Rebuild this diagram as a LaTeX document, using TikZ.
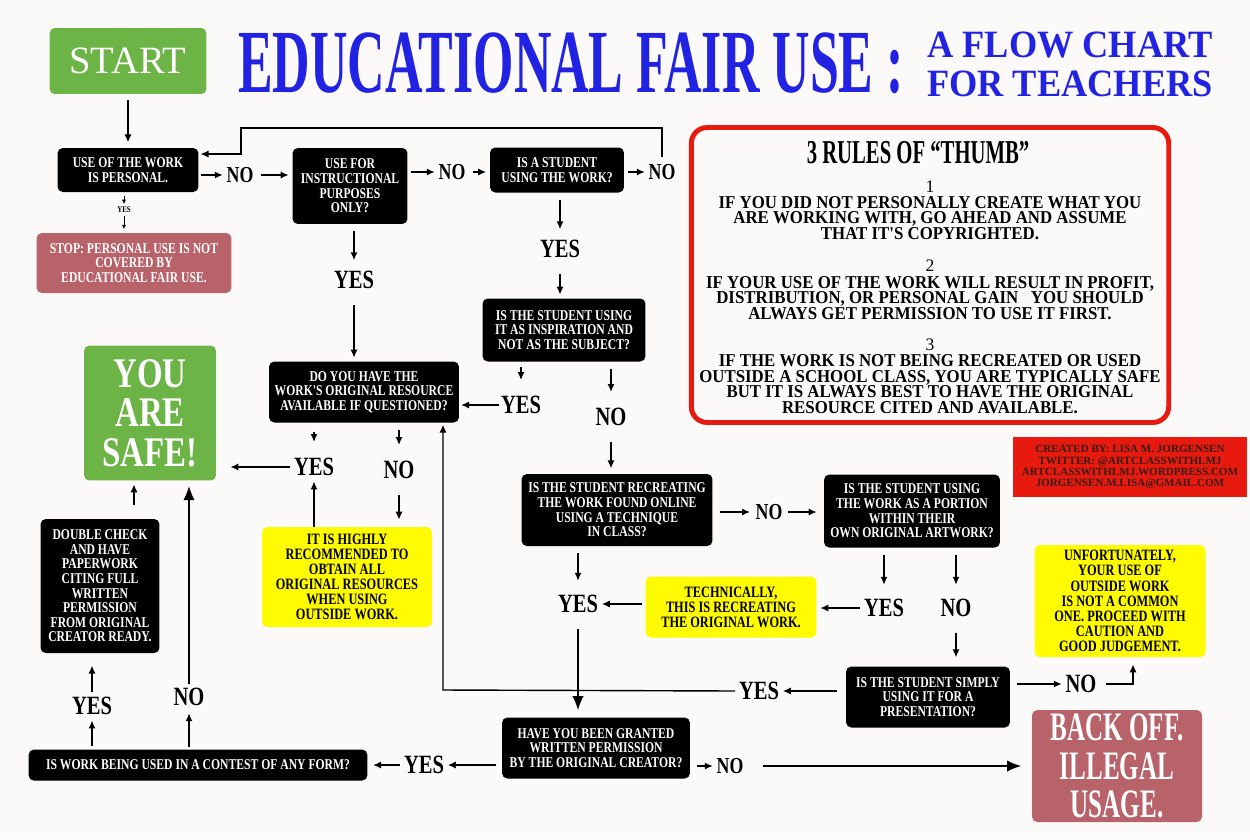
\documentclass[tikz,border=0pt]{standalone}
\usepackage{fontspec}
\usepackage{graphicx}
\setmainfont{Liberation Serif}
\newfontfamily\cnd[FakeStretch=0.78]{Liberation Serif}
\newfontfamily\xcnd[FakeStretch=0.62]{Liberation Serif}
\newfontfamily\rfont[FakeStretch=0.93]{Liberation Serif}
\newfontfamily\subfont[FakeStretch=0.94]{Liberation Serif}
\usetikzlibrary{arrows.meta}
\definecolor{bgcol}{HTML}{FCF9F9}
\definecolor{okgreen}{HTML}{6DB446}
\definecolor{stoprose}{HTML}{B8626A}
\definecolor{flowyellow}{HTML}{FFFB00}
\definecolor{rulered}{HTML}{E61A0E}
\definecolor{titleblue}{HTML}{2222E2}
\definecolor{credtext}{HTML}{3A1A12}
\tikzset{%
  myedge/.style={-{Latex[length=4.5pt,width=4pt]}, line width=0.8pt, shorten >=3pt, shorten <=3pt},
  bigedge/.style={myedge, -{Latex[length=8pt,width=6.5pt]}},
  myline/.style={line width=0.7pt},
  qnode/.style={fill=black, text=white, rounded corners=3pt, align=center, inner sep=2pt,
    font=\cnd\bfseries\fontsize{8.5}{8.3}\selectfont},
  ynode/.style={qnode, fill=flowyellow, text=black, font=\cnd\bfseries\fontsize{9}{8.6}\selectfont},
  rnode/.style={qnode, fill=stoprose},
  gnode/.style={qnode, fill=okgreen},
  lbl/.style={inner sep=1pt, font=\cnd\bfseries\fontsize{15}{15}\selectfont},
  slbl/.style={inner sep=1pt, font=\cnd\bfseries\fontsize{13}{13}\selectfont},
  tlbl/.style={inner sep=0.5pt, font=\cnd\bfseries\fontsize{5}{5}\selectfont},
  titletext/.style={inner sep=0pt, text=titleblue, font=\bfseries},
  rulestext/.style={align=center, inner sep=0pt, font=\rfont\bfseries\fontsize{10.3}{8.8}\selectfont},
  rulesnum/.style={inner sep=0pt, font=\fontsize{10}{10}\selectfont}
}

\begin{document}
\begin{tikzpicture}[x=0.02cm, y=-0.02cm]
  \fill[bgcol] (0,0) rectangle (1250,839);
  \useasboundingbox (0,0) rectangle (1250,839);

  \node[gnode, minimum width=3.14cm, minimum height=1.32cm, font=\fontsize{22}{22}\selectfont] (start) at (128,61) {START};
  \node[titletext] (title) at (571,63) {\resizebox{379pt}{34pt}{EDUCATIONAL FAIR USE :}};
  \node[titletext, align=center, font=\subfont\bfseries\fontsize{22}{22.2}\selectfont] (sub) at (1070,64) {A FLOW CHART\\FOR TEACHERS};

  \node[qnode, minimum width=2.82cm, minimum height=0.88cm] (personal) at (128,170) {USE OF THE WORK\\IS PERSONAL.};
  \node[rnode, minimum width=3.9cm, minimum height=1.2cm] (stop) at (134,263) {STOP: PERSONAL USE IS NOT\\COVERED BY\\EDUCATIONAL FAIR USE.};
  \node[qnode, minimum width=2.3cm, minimum height=1.52cm] (instr) at (350,186) {USE FOR\\INSTRUCTIONAL\\PURPOSES\\ONLY?};
  \node[qnode, minimum width=2.68cm, minimum height=0.9cm] (student) at (557,170) {IS A STUDENT\\USING THE WORK?};
  \node[qnode, minimum width=3.26cm, minimum height=1.26cm] (insp) at (564,330) {IS THE STUDENT USING\\IT AS INSPIRATION AND\\NOT AS THE SUBJECT?};
  \node[qnode, minimum width=3.8cm, minimum height=1.22cm] (resource) at (364,392) {DO YOU HAVE THE\\WORK'S ORIGINAL RESOURCE\\AVAILABLE IF QUESTIONED?};
  \node[gnode, minimum width=2.64cm, minimum height=2.7cm, font=\cnd\bfseries\fontsize{24}{22.5}\selectfont] (safe) at (150,413) {YOU\\ARE\\SAFE!};
  \node[ynode, minimum width=3.4cm, minimum height=2cm] (recom) at (347,577) {IT IS HIGHLY\\RECOMMENDED TO\\OBTAIN ALL\\ORIGINAL RESOURCES\\WHEN USING\\OUTSIDE WORK.};
  \node[qnode, minimum width=2.38cm, minimum height=2.68cm] (double) at (100,586) {DOUBLE CHECK\\AND HAVE\\PAPERWORK\\CITING FULL\\WRITTEN\\PERMISSION\\FROM ORIGINAL\\CREATOR READY.};
  \node[qnode, minimum width=6.78cm, minimum height=0.62cm] (contest) at (198,765) {IS WORK BEING USED IN A CONTEST OF ANY FORM?};
  \node[qnode, minimum width=3.76cm, minimum height=1.22cm] (granted) at (596,748) {HAVE YOU BEEN GRANTED\\WRITTEN PERMISSION\\BY THE ORIGINAL CREATOR?};
  \node[rnode, minimum width=3.4cm, minimum height=2.24cm, font=\xcnd\bfseries\fontsize{23}{22}\selectfont] (backoff) at (1117,766) {BACK OFF.\\ILLEGAL\\USAGE.};
  \node[qnode, minimum width=3.82cm, minimum height=1.44cm] (recreate) at (617,510) {IS THE STUDENT RECREATING\\THE WORK FOUND ONLINE\\USING A TECHNIQUE\\IN CLASS?};
  \node[qnode, minimum width=3.52cm, minimum height=1.46cm] (portion) at (912,511) {IS THE STUDENT USING\\THE WORK AS A PORTION\\WITHIN THEIR\\OWN ORIGINAL ARTWORK?};
  \node[ynode, minimum width=3.42cm, minimum height=1.22cm] (tech) at (731,607) {TECHNICALLY,\\THIS IS RECREATING\\THE ORIGINAL WORK.};
  \node[qnode, minimum width=3.28cm, minimum height=1.22cm] (present) at (928,697) {IS THE STUDENT SIMPLY\\USING IT FOR A\\PRESENTATION?};
  \node[ynode, minimum width=3.42cm, minimum height=2.24cm] (unfort) at (1120,601) {UNFORTUNATELY,\\YOUR USE OF\\OUTSIDE WORK\\IS NOT A COMMON\\ONE. PROCEED WITH\\CAUTION AND\\GOOD JUDGEMENT.};

  \node[draw=rulered, line width=2.8pt, rounded corners=9pt, fill=bgcol, minimum width=9.55cm, minimum height=5.9cm] (rules) at (930,275) {};
  \node[inner sep=0pt, font=\xcnd\bfseries\fontsize{19}{19}\selectfont] (rtitle) at (918,153) {3 RULES OF “THUMB”};
  \node[rulesnum] (rnum1) at (930,187) {1};
  \node[rulestext] (rule1) at (930,218) {IF YOU DID NOT PERSONALLY CREATE WHAT YOU\\ARE WORKING WITH, GO AHEAD AND ASSUME\\THAT IT'S COPYRIGHTED.};
  \node[rulesnum] (rnum2) at (930,266) {2};
  \node[rulestext] (rule2) at (930,298) {IF YOUR USE OF THE WORK WILL RESULT IN PROFIT,\\DISTRIBUTION, OR PERSONAL GAIN\ \ \ YOU SHOULD\\ALWAYS GET PERMISSION TO USE IT FIRST.};
  \node[rulesnum] (rnum3) at (930,345) {3};
  \node[rulestext] (rule3) at (930,384) {IF THE WORK IS NOT BEING RECREATED OR USED\\OUTSIDE A SCHOOL CLASS, YOU ARE TYPICALLY SAFE\\BUT IT IS ALWAYS BEST TO HAVE THE ORIGINAL\\RESOURCE CITED AND AVAILABLE.};
  \node[fill=rulered, text=credtext, align=center, inner sep=2pt, minimum width=4.68cm, minimum height=1.2cm,
    font=\bfseries\fontsize{6.3}{6.4}\selectfont] (credits) at (1130,467) {CREATED BY: LISA M. JORGENSEN\\TWITTER: @ARTCLASSWITHLMJ\\ARTCLASSWITHLMJ.WORDPRESS.COM\\JORGENSEN.M.LISA@GMAIL.COM};

  \node[tlbl] (yes0) at (124,210) {YES};
  \node[slbl] (no1) at (240,175) {NO};
  \node[slbl] (no2) at (452,172) {NO};
  \node[slbl] (no3) at (662,172) {NO};
  \node[lbl] (yes1) at (354,280) {YES};
  \node[lbl] (yes2) at (560,249) {YES};
  \node[lbl] (yes3) at (521,405) {YES};
  \node[lbl] (no4) at (611,417) {NO};
  \node[lbl] (yes4) at (314,467) {YES};
  \node[lbl] (no5) at (399,470) {NO};
  \node[slbl] (no6) at (769,512) {NO};
  \node[lbl] (yes5) at (578,604) {YES};
  \node[lbl] (yes6) at (884,608) {YES};
  \node[lbl] (no7) at (956,608) {NO};
  \node[lbl] (yes7) at (759,691) {YES};
  \node[lbl] (no8) at (1081,684) {NO};
  \node[lbl] (yes8) at (92,706) {YES};
  \node[lbl] (no9) at (189,697) {NO};
  \node[lbl] (yes9) at (424,765) {YES};
  \node[slbl] (no10) at (730,766) {NO};

  \coordinate (loopB) at (241,128);
  \coordinate (loopC) at (241,154);
  \coordinate (backA) at (443,690);
  \coordinate (unfA) at (1133,684);

  \draw[myedge] (start.south) -- (start.south |- personal.north);
  \draw[myedge, line width=0.5pt, -{Latex[length=2.5pt,width=2.5pt]}, shorten <=2pt, shorten >=1pt] (personal.south -| yes0) -- (yes0.north);
  \draw[myedge, line width=0.5pt, -{Latex[length=2.5pt,width=2.5pt]}, shorten <=1pt, shorten >=2pt] (yes0.south) -- (stop.north -| yes0);
  \draw[myedge, shorten <=1pt, shorten >=1pt] (no1 -| personal.east) -- (no1.west);
  \draw[myedge, shorten >=2pt] (no1.east) -- (no1 -| instr.west);
  \draw[myedge, shorten <=2pt, shorten >=1pt] (no2 -| instr.east) -- (no2.west);
  \draw[myedge, shorten >=2pt] (no2.east) -- (no2 -| student.west);
  \draw[myedge, shorten <=2pt, shorten >=1pt] (no3 -| student.east) -- (no3.west);
  \draw[myedge, line width=0.6pt, shorten >=1pt] (no3.north) |- (loopB) -- (loopC) -- (loopC -| personal.east);
  \draw[myedge, shorten <=4pt, shorten >=5pt] (instr.south -| yes1) -- (yes1.north);
  \draw[myedge, shorten <=8pt, shorten >=2pt] (yes1.south) -- (resource.north -| yes1);
  \draw[myedge, shorten <=4pt, shorten >=5pt] (student.south -| yes2) -- (yes2.north);
  \draw[myedge, shorten <=8pt, shorten >=2pt] (yes2.south) -- (insp.north -| yes2);
  \draw[myedge, shorten <=3pt, shorten >=8pt] (insp.south -| yes3) -- (yes3.north);
  \draw[myedge, shorten <=0pt, shorten >=1pt] (yes3.west) -- (yes3 -| resource.east);
  \draw[myedge, shorten <=4pt, shorten >=8pt] (insp.south -| no4) -- (no4.north);
  \draw[myedge, shorten <=8pt, shorten >=3pt] (no4.south) -- (recreate.north -| no4);
  \draw[myedge, shorten <=5pt, shorten >=8pt] (resource.south -| yes4) -- (yes4.north);
  \draw[myedge, shorten <=1pt, shorten >=8pt] (yes4.west) -- (yes4 -| safe.east);
  \draw[myedge, shorten <=4pt, shorten >=8pt] (resource.south -| no5) -- (no5.north);
  \draw[myedge, shorten <=8pt, shorten >=4pt] (no5.south) -- (recom.north -| no5);
  \draw[myedge, shorten <=0pt, shorten >=2pt] (recom.north -| yes4) -- (yes4.south);
  \draw[myedge, shorten <=8pt, shorten >=2pt] (double.north -| 134,0) -- (safe.south -| 134,0);
  \draw[bigedge, shorten <=1pt, shorten >=3pt] (no9.north) -- (safe.south -| no9);
  \draw[myedge, shorten <=1pt, shorten >=3pt] (contest.north -| no9) -- (no9.south);
  \draw[myedge, shorten <=2pt, shorten >=2pt] (contest.north -| yes8) -- (yes8.south);
  \draw[myedge, shorten <=2pt, shorten >=7pt] (yes8.north) -- (double.south -| yes8);
  \draw[myedge, shorten <=3pt, shorten >=1pt] (yes9 -| granted.west) -- (yes9.east);
  \draw[myedge, shorten <=1pt, shorten >=3pt] (yes9.west) -- (yes9 -| contest.east);
  \draw[myedge, shorten <=4pt, shorten >=1pt] (no10 -| granted.east) -- (no10.west);
  \draw[bigedge, shorten <=10pt, shorten >=6pt] (no10.east) -- (no10 -| backoff.west);
  \draw[myedge, shorten <=4pt, shorten >=2pt] (no6 -| recreate.east) -- (no6.west);
  \draw[myedge, shorten <=2pt, shorten >=4pt] (no6.east) -- (no6 -| portion.west);
  \draw[myedge, shorten <=4pt, shorten >=7pt] (recreate.south -| yes5) -- (yes5.north);
  \draw[bigedge, shorten <=8pt, shorten >=4pt] (yes5.south) -- (granted.north -| yes5);
  \draw[myedge, shorten <=2pt, shorten >=1pt] (yes5 -| tech.west) -- (yes5.east);
  \draw[myedge, shorten <=4pt, shorten >=7pt] (portion.south -| yes6) -- (yes6.north);
  \draw[myedge, shorten <=1pt, shorten >=2pt] (yes6.west) -- (yes6 -| tech.east);
  \draw[myedge, shorten <=4pt, shorten >=7pt] (portion.south -| no7) -- (no7.north);
  \draw[myedge, shorten <=8pt, shorten >=5pt] (no7.south) -- (present.north -| no7);
  \draw[myedge, shorten <=5pt, shorten >=1pt] (yes7 -| present.west) -- (yes7.east);
  \draw[myedge, shorten <=1pt, shorten >=1pt] (yes7.west) -- (backA) -- (backA |- resource.south);
  \draw[myedge, shorten <=4pt, shorten >=1pt] (no8 -| present.east) -- (no8.west);
  \draw[myedge, shorten <=4pt, shorten >=4pt] (no8.east) -- (unfA) -- (unfA |- unfort.south);
\end{tikzpicture}
\end{document}
